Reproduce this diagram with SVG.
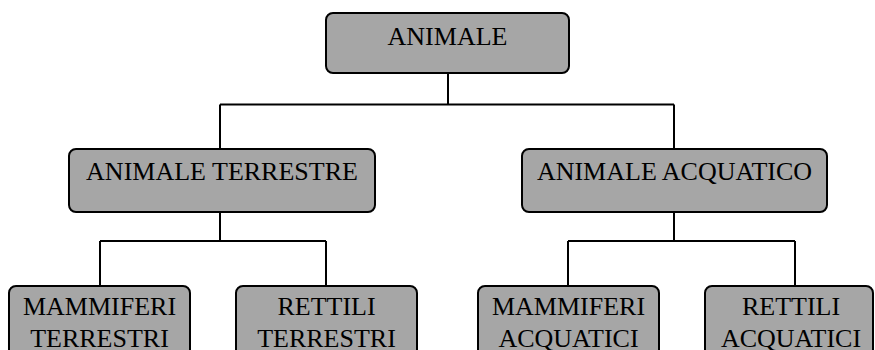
<svg xmlns="http://www.w3.org/2000/svg" width="875" height="350" viewBox="0 0 875 350">
  <style>
    .box { fill: #a6a6a6; stroke: #000; stroke-width: 2; }
    .lbl { font-family: "Liberation Serif", "Times New Roman", serif; font-size: 26px; fill: #000; text-anchor: middle; }
    .wire { fill: none; stroke: #000; stroke-width: 2; }
  </style>
  <rect width="875" height="350" fill="#fff"/>

  <g id="connectors">
    <path class="wire" d="M448 73 V104.5 M220 104.5 H674 M220 104.5 V149 M674 104.5 V149"/>
    <path class="wire" d="M220 212 V241 M100 241 H326 M100 241 V286 M326 241 V286"/>
    <path class="wire" d="M674 212 V241 M568 241 H795 M568 241 V286 M795 241 V286"/>
  </g>

  <g id="animale">
    <rect class="box" x="326" y="13" width="243" height="60" rx="7"/>
    <text class="lbl" x="447.5" y="44.5">ANIMALE</text>
  </g>

  <g id="animale-terrestre">
    <rect class="box" x="69" y="149" width="306" height="63" rx="7"/>
    <text class="lbl" x="222" y="180">ANIMALE TERRESTRE</text>
  </g>

  <g id="animale-acquatico">
    <rect class="box" x="522" y="149" width="305" height="63" rx="7"/>
    <text class="lbl" x="674.5" y="180">ANIMALE ACQUATICO</text>
  </g>

  <g id="mammiferi-terrestri">
    <rect class="box" x="9" y="286" width="181" height="80" rx="7"/>
    <text class="lbl" x="99.5" y="315">MAMMIFERI</text>
    <text class="lbl" x="99.5" y="347">TERRESTRI</text>
  </g>

  <g id="rettili-terrestri">
    <rect class="box" x="236" y="286" width="181" height="80" rx="7"/>
    <text class="lbl" x="326.5" y="315">RETTILI</text>
    <text class="lbl" x="326.5" y="347">TERRESTRI</text>
  </g>

  <g id="mammiferi-acquatici">
    <rect class="box" x="478" y="286" width="181" height="80" rx="7"/>
    <text class="lbl" x="568.5" y="315">MAMMIFERI</text>
    <text class="lbl" x="568.5" y="347">ACQUATICI</text>
  </g>

  <g id="rettili-acquatici">
    <rect class="box" x="705" y="286" width="168" height="80" rx="7"/>
    <text class="lbl" x="791" y="315">RETTILI</text>
    <text class="lbl" x="791" y="347">ACQUATICI</text>
  </g>
</svg>
